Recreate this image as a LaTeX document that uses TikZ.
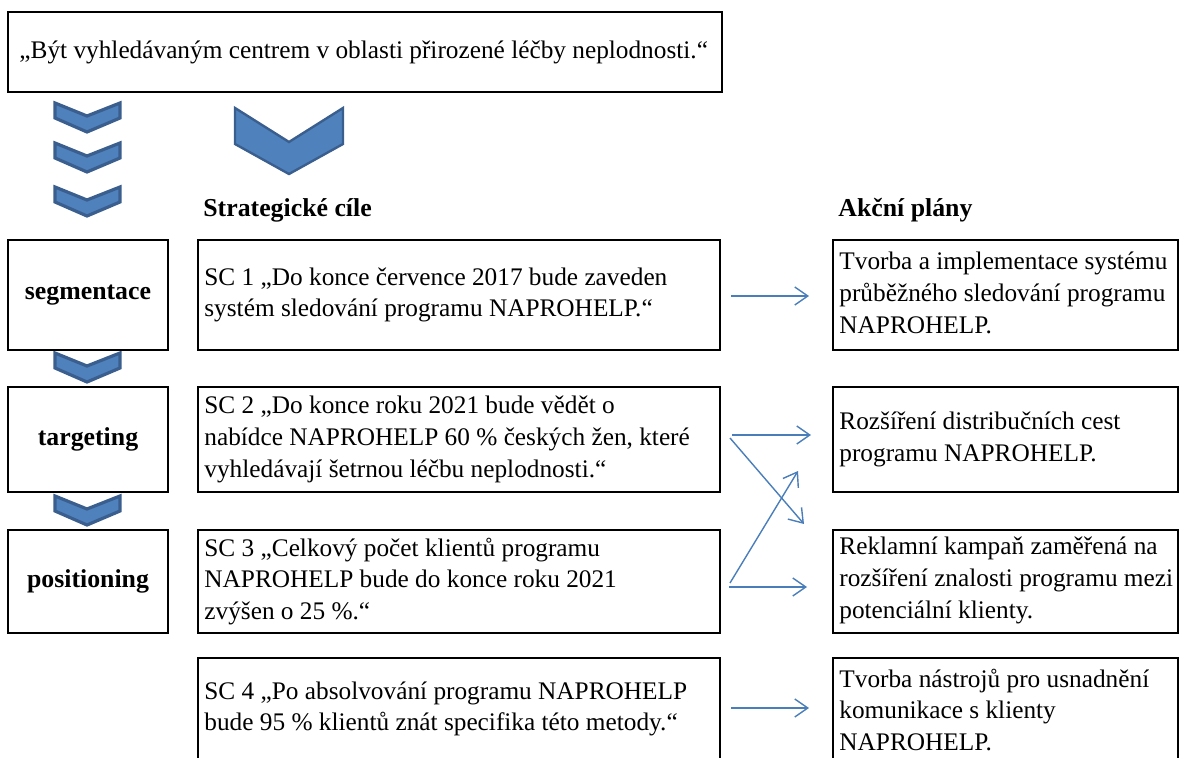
\documentclass[tikz,border=0pt]{standalone}
\usepackage{fontspec}
\setmainfont{Liberation Serif}
\usetikzlibrary{arrows.meta,calc}
\definecolor{chevfill}{HTML}{4F81BD}
\definecolor{chevline}{HTML}{3A5F8E}
\definecolor{arrblue}{HTML}{4A7EBB}
\begin{document}
\begin{tikzpicture}[x=0.5pt,y=-0.5pt,
  box/.style={draw=black,line width=1pt,rectangle,inner sep=0pt},
  lbox/.style={box,minimum width=80pt},
  mbox/.style={box,minimum width=261pt},
  rbox/.style={box,minimum width=172.5pt},
  txt/.style={anchor=west,align=left,inner sep=0pt,font=\fontsize{12.65}{15.9}\selectfont},
  btxt/.style={inner sep=0pt,font=\fontsize{12.9}{15.9}\selectfont\bfseries},
  chev/.style={fill=chevfill,draw=chevline,line width=1.6pt,line join=miter},
  bigchev/.style={chev,line width=1.2pt},
  arr/.style={draw=arrblue,line width=0.7pt,-{Straight Barb[length=6.5pt,width=9pt]}}]
\path[use as bounding box] (0,0) rectangle (1183,758);
\clip (0,0) rectangle (1183,758);

% top box
\node[box,minimum width=357pt,minimum height=40pt] (top) at (365,52) {};
\node[txt] (topt) at ($(top.west)+(12,0)$) {„Být vyhledávaným centrem v oblasti přirozené léčby neplodnosti.“};

% chevrons
\foreach \yy in {103,143,187,353,496}{
  \draw[chev] (55,\yy) -- ++(32,13) -- ++(33,-13) -- ++(0,15) -- ++(-33,14) -- ++(-32,-14) -- cycle;
}
\draw[bigchev] (235,108) -- ++(54,34) -- ++(54,-34) -- ++(0,36) -- ++(-54,30) -- ++(-54,-30) -- cycle;

% headings
\node[btxt,anchor=west] (h1) at (203,210) {Strategické cíle};
\node[btxt,anchor=west] (h2) at (838,210) {Akční plány};

% left boxes
\node[lbox,minimum height=55pt] (seg) at (88,295) {};
\node[btxt] (segt) at (seg.center) {segmentace};
\node[lbox,minimum height=52.5pt] (targ) at (88,439.5) {};
\node[btxt] (targt) at (targ.center) {targeting};
\node[lbox,minimum height=51.5pt] (pos) at (88,581.5) {};
\node[btxt] (post) at (pos.center) {positioning};

% middle boxes
\node[mbox,minimum height=55pt] (sc1) at (459,295) {};
\node[txt] (sc1t) at ($(sc1.west)+(7,0)$) {SC 1 „Do konce července 2017 bude zaveden\\systém sledování programu NAPROHELP.“};
\node[mbox,minimum height=52.5pt] (sc2) at (459,439.5) {};
\node[txt] (sc2t) at ($(sc2.west)+(7,0)$) {SC 2 „Do konce roku 2021 bude vědět o\\nabídce NAPROHELP 60 \% českých žen, které\\vyhledávají šetrnou léčbu neplodnosti.“};
\node[mbox,minimum height=51.5pt] (sc3) at (459,581.5) {};
\node[txt] (sc3t) at ($(sc3.west)+(7,0)$) {SC 3 „Celkový počet klientů programu\\NAPROHELP bude do konce roku 2021\\zvýšen o 25 \%.“};
\node[mbox,minimum height=52pt] (sc4) at (459,710) {};
\node[txt] (sc4t) at ($(sc4.west)+(7,-1)$) {SC 4 „Po absolvování programu NAPROHELP\\bude 95 \% klientů znát specifika této metody.“};

% right boxes
\node[rbox,minimum height=55pt] (r1) at (1005.5,295) {};
\node[txt] (r1t) at ($(r1.west)+(7,-2)$) {Tvorba a implementace systému\\průběžného sledování programu\\NAPROHELP.};
\node[rbox,minimum height=52.5pt] (r2) at (1005.5,439.5) {};
\node[txt] (r2t) at ($(r2.west)+(7,0)$) {Rozšíření distribučních cest\\programu NAPROHELP.};
\node[rbox,minimum height=51.5pt] (r3) at (1005.5,581.5) {};
\node[txt] (r3t) at ($(r3.west)+(7,-1)$) {Reklamní kampaň zaměřená na\\rozšíření znalosti programu mezi\\potenciální klienty.};
\node[rbox,minimum height=52pt] (r4) at (1005.5,710) {};
\node[txt] (r4t) at ($(r4.west)+(7,0)$) {Tvorba nástrojů pro usnadnění\\komunikace s klienty\\NAPROHELP.};

% arrows
\draw[arr] ($(sc1.east)+(10,1)$) -- ($(r1.west)+(-23,1)$);
\draw[arr] ($(sc2.east)+(11,-4.5)$) -- ($(r2.west)+(-21,-4.5)$);
\draw[arr] ($(sc2.east)+(9,-1.5)$) -- ($(r3.west)+(-28,-57.5)$);
\draw[arr] ($(sc3.east)+(9,1.5)$) -- ($(r2.west)+(-34,31.5)$);
\draw[arr] ($(sc3.east)+(8,5.5)$) -- ($(r3.west)+(-25,5.5)$);
\draw[arr] ($(sc4.east)+(10,-2)$) -- ($(r4.west)+(-23,-2)$);
\end{tikzpicture}
\end{document}
